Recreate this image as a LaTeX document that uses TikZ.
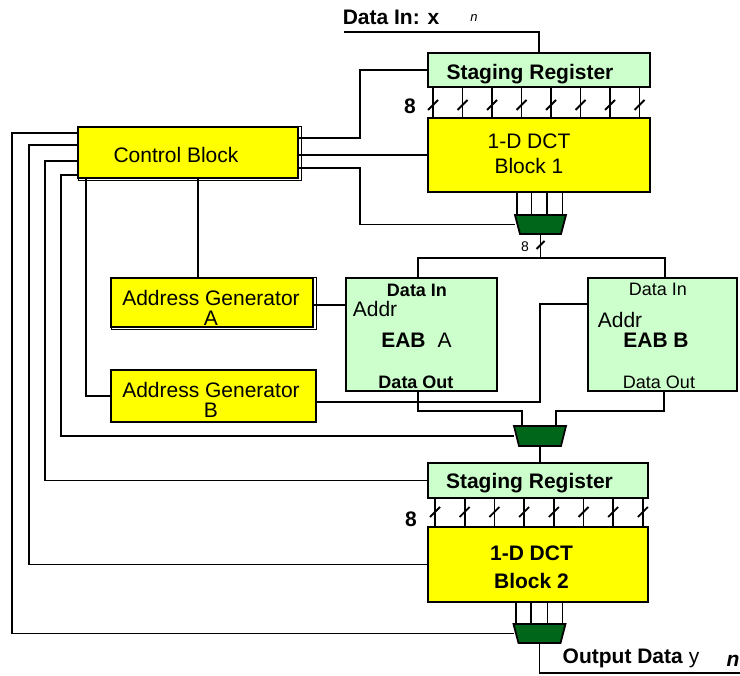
\documentclass[tikz,border=0pt]{standalone}
\usepackage{fontspec}
\setmainfont{Liberation Sans}
\usepackage{tikz}
\usepackage{xcolor}
\definecolor{ColYel}{RGB}{255,255,0}
\definecolor{ColReg}{RGB}{204,255,204}
\definecolor{ColMux}{RGB}{0,102,26}
\newcommand{\BigFont}{\fontsize{21}{22}\selectfont}
\newcommand{\MidFont}{\fontsize{18}{20}\selectfont}
\newcommand{\SmallFont}{\fontsize{14}{16}\selectfont}
\newcommand{\TinyFont}{\fontsize{13}{15}\selectfont}
\tikzstyle{Block}=[rectangle,draw=black,line width=2pt,inner sep=0pt,outer sep=0pt]
\tikzstyle{YelBlock}=[Block,fill=ColYel]
\tikzstyle{RegBlock}=[Block,fill=ColReg]
\tikzstyle{MuxBox}=[rectangle,inner sep=0pt,outer sep=0pt,minimum width=52pt,minimum height=19pt]
\tikzstyle{MuxFill}=[draw=black,line width=1.8pt,fill=ColMux,line join=miter]
\tikzstyle{Wire}=[black,line width=1.8pt]
\tikzstyle{Txt}=[inner sep=0pt,font=\BigFont,align=center]

\begin{document}
\begin{tikzpicture}[x=1pt,y=-1pt]
        \useasboundingbox (0,0) rectangle (740,676);
        % blocks
        \node[RegBlock,minimum width=222pt,minimum height=34pt](SR1)at(539,70){};
        \node[YelBlock,minimum width=222pt,minimum height=74pt](DCT1)at(539,155){};
        \node[YelBlock,minimum width=220pt,minimum height=51pt](CB)at(188,152.5){};
        \draw[line width=1pt](CB.north west)rectangle([shift={(3,3)}]CB.south east);
        \node[YelBlock,minimum width=202pt,minimum height=49pt](AGa)at(212,302.5){};
        \draw[line width=1pt](AGa.north west)rectangle([shift={(3,3)}]AGa.south east);
        \node[YelBlock,minimum width=205pt,minimum height=52pt](AGb)at(213.5,396){};
        \node[RegBlock,minimum width=151pt,minimum height=113pt](EABa)at(421.5,334.5){};
        \node[RegBlock,minimum width=149pt,minimum height=113pt](EABb)at(662.5,334.5){};
        \node[RegBlock,minimum width=220pt,minimum height=35pt](SR2)at(538,480.5){};
        \node[YelBlock,minimum width=220pt,minimum height=75pt](DCT2)at(538,564.5){};
        \node[MuxBox,minimum width=51pt](M1)at(540.5,224.5){};
        \node[MuxBox,minimum height=20pt](M2)at(540,436){};
        \node[MuxBox](M3)at(539.5,633.5){};
        \coordinate(dinStart)at(344,32);
        \coordinate(J1)at(540.5,258);
        \coordinate(yout)at(740,673);
        % texts
        \node[Txt](txtDataIn)at(391,17){\bfseries Data In: x};
        \node[Txt,font=\TinyFont](txtN1)at(474,18){\itshape n};
        \node[Txt](txtSR1)at(530,74){\bfseries Staging Register};
        \node[Txt](txt81)at(410,106){\bfseries 8};
        \node[Txt,font=\fontsize{21}{25}\selectfont](txtDCT1)at(529,154){1-D DCT\\Block 1};
        \node[Txt](txtCB)at(176,155){Control Block};
        \node[Txt,font=\SmallFont](txt82)at(525,247){8};
        \node[Txt,font=\fontsize{21}{20}\selectfont](txtAGa)at(211,308){Address Generator\\A};
        \node[Txt,font=\fontsize{21}{20}\selectfont](txtAGb)at(211,400){Address Generator\\B};
        \node[Txt,font=\MidFont](txtEaIn)at(417,290){\bfseries Data In};
        \node[Txt](txtEaAddr)at(375,309){Addr};
        \node[Txt](txtEaName)at(416.5,340){\textbf{EAB}\hspace{12pt}A};
        \node[Txt,font=\MidFont](txtEaOut)at(416,382){\bfseries Data Out};
        \node[Txt,font=\MidFont](txtEbIn)at(658,289){Data In};
        \node[Txt](txtEbAddr)at(620,320){Addr};
        \node[Txt](txtEbName)at(656,340){\bfseries EAB B};
        \node[Txt,font=\MidFont](txtEbOut)at(659,382){Data Out};
        \node[Txt](txtSR2)at(529.5,483){\bfseries Staging Register};
        \node[Txt](txt83)at(411,519){\bfseries 8};
        \node[Txt,font=\fontsize{21}{28}\selectfont](txtDCT2)at(531.5,567){\bfseries 1-D DCT\\\bfseries Block 2};
        \node[Txt](txtOut)at(631,658){\textbf{Output Data} y};
        \node[Txt](txtN2)at(733,661){\bfseries\itshape n};
        % data path
        \draw[Wire](dinStart)-|(SR1.north);
        \foreach \x in {433,462.5,...,640}{
            \draw[Wire](SR1.south -| \x,0)--(DCT1.north -| \x,0);
            \draw[Wire]([shift={(-5,5)}]\x,105)--++(10,-10);
        }
        \foreach \x in {517,531.5,547,562.5}
            \draw[Wire](DCT1.south -| \x,0)--(M1.north -| \x,0);
        \draw[Wire](M1.south)--(J1);
        \draw[Wire]([shift={(-4,4)}]540.5,245)--++(8,-8);
        \draw[Wire](EABa.north -| 418,0)|-(J1)-|(EABb.north -| 665,0);
        \draw[Wire](AGa.east |- 0,305)--(EABa.west |- 0,305);
        \draw[Wire](AGb.east |- 0,402)-|(540,304)--(EABb.west |- 0,304);
        \draw[Wire](EABa.south -| 418,0)|-(522,411)--(M2.north -| 522,0);
        \draw[Wire](EABb.south -| 664,0)|-(556,411)--(M2.north -| 556,0);
        \draw[Wire](M2.south)--(SR2.north -| M2.south);
        \foreach \x in {435,464.7,...,645}{
            \draw[Wire](SR2.south -| \x,0)--(DCT2.north -| \x,0);
            \draw[Wire]([shift={(-5,5)}]\x,512)--++(10,-10);
        }
        \foreach \x in {516,531,547.5,562.5}
            \draw[Wire](DCT2.south -| \x,0)--(M3.north -| \x,0);
        \draw[Wire](M3.south)|-(yout);
        % control lines
        \draw[Wire](CB.east |- 0,138)-|(360,70)--(SR1.west);
        \draw[Wire](CB.east |- DCT1.west)--(DCT1.west);
        \draw[Wire](CB.east |- 0,168)-|(M1.west -| 360,0)--(M1.west);
        \draw[Wire](CB.south -| 198,0)--(AGa.north -| 198,0);
        \draw[Wire](CB.south -| 86,0)|-(AGb.west);
        \draw[Wire](CB.west |- 0,133)-|(M3.west -| 12,0)--(M3.west);
        \draw[Wire](CB.west |- 0,145)-|(DCT2.west -| 29,0)--(DCT2.west);
        \draw[Wire](CB.west |- 0,161)-|(SR2.west -| 45,0)--(SR2.west);
        \draw[Wire](CB.west |- 0,175)-|(M2.west -| 61,0)--(M2.west);
        % muxes
        \foreach \m in {M1,M2,M3}
            \draw[MuxFill](\m.north west)--(\m.north east)--([xshift=-5pt]\m.south east)
                --([xshift=5pt]\m.south west)--cycle;
\end{tikzpicture}
\end{document}
